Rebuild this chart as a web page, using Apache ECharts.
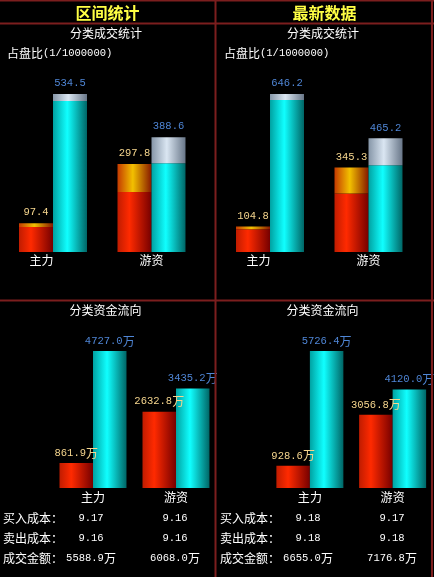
<!DOCTYPE html>
<html>
<head>
<meta charset="utf-8">
<script src="https://cdn.jsdelivr.net/npm/echarts@6/dist/echarts.min.js"></script>
<style>
html,body{margin:0;padding:0;background:#000;}
#c{width:434px;height:577px;}
</style>
</head>
<body>
<div id="c"></div>
<script>
// ---------- data ----------
const categories = ['主力', '游资'];
const panelTitles = ['区间统计', '最新数据'];

// 占盘比 (1/1000000): totals and the light cap segment on top of each bar
const rangeRatioRed = [97.4, 297.8];
const rangeRatioRedCap = [13, 95];
const rangeRatioCyan = [534.5, 388.6];
const rangeRatioCyanCap = [24, 88];

const latestRatioRed = [104.8, 345.3];
const latestRatioRedCap = [12, 106];
const latestRatioCyan = [646.2, 465.2];
const latestRatioCyanCap = [25, 110];

// 分类资金流向 (万)
const rangeFlowRed = [861.9, 2632.8];
const rangeFlowCyan = [4727.0, 3435.2];
const latestFlowRed = [928.6, 3056.8];
const latestFlowCyan = [5726.4, 4120.0];

// table
const rowLabels = ['买入成本：', '卖出成本：', '成交金额：'];
const rangeBuyCost = ['9.17', '9.16'];
const rangeSellCost = ['9.16', '9.16'];
const rangeTurnover = ['5588.9万', '6068.0万'];
const latestBuyCost = ['9.18', '9.17'];
const latestSellCost = ['9.18', '9.18'];
const latestTurnover = ['6655.0万', '7176.8万'];

// ---------- styles ----------
const MONO = 'Liberation Mono';
const MONO_SIZE = 10.5;
const CJK = 'Noto Sans CJK SC';
const grad = (stops) => ({type: 'linear', x: 0, y: 0, x2: 1, y2: 0,
  colorStops: stops.map(s => ({offset: s[0], color: s[1]}))});
const RED = grad([[0, '#c01c00'], [0.35, '#ff2a00'], [1, '#760000']]);
const ORANGE = grad([[0, '#c43a00'], [0.45, '#f2c000'], [1, '#861800']]);
const CYAN = grad([[0, '#00a2a2'], [0.42, '#10ffff'], [1, '#006666']]);
const SILVER = grad([[0, '#8696a8'], [0.45, '#dae6f2'], [1, '#687688']]);
const RED_LBL = '#f6d68e';
const BLUE_LBL = '#4f86d6';
const LINE = '#7c1e1e';

const PW = 217; // panel offset
const grids = [
  {left: 3.75, top: 94, width: 197, height: 158},
  {left: 3.75 + PW, top: 94, width: 197, height: 158},
  {left: 51.5, top: 351, width: 166, height: 137},
  {left: 51.5 + PW, top: 351, width: 166, height: 137}
];

function xAx(i, shiftFirst) {
  return {
    type: 'category', gridIndex: i, data: categories,
    axisLine: {show: false}, axisTick: {show: false}, splitLine: {show: false},
    axisLabel: {
      interval: 0, color: '#fff', fontSize: 12, fontFamily: CJK, margin: shiftFirst ? 2 : 3,
      formatter: (v, idx) => (shiftFirst && idx === 0) ? '{s|' + v + '}' : v,
      rich: {s: {padding: [0, 23, 0, 0], color: '#fff', fontSize: 12, fontFamily: CJK}}
    }
  };
}
function yAx(i, max) {
  return {type: 'value', gridIndex: i, min: 0, max: max, show: false, splitLine: {show: false}};
}

const numLabel = (color, vals, wan) => ({
  show: true, position: 'top', distance: wan ? 4 : 5,
  formatter: p => wan ? '{n|' + vals[p.dataIndex].toFixed(1) + '}{w|万}' : '{n|' + vals[p.dataIndex].toFixed(1) + '}',
  rich: {
    n: {color: color, fontSize: MONO_SIZE, fontFamily: MONO},
    w: {color: color, fontSize: 12, fontFamily: CJK}
  }
});

function ratioSeries(i, red, redCap, cyan, cyanCap) {
  return [
    {type: 'bar', xAxisIndex: i, yAxisIndex: i, stack: 'r' + i, barWidth: 34, barGap: '0%',
      data: red.map((v, k) => v - redCap[k]), itemStyle: {color: RED}, silent: true},
    {type: 'bar', xAxisIndex: i, yAxisIndex: i, stack: 'r' + i, barWidth: 34, barGap: '0%',
      data: redCap, itemStyle: {color: ORANGE}, label: numLabel(RED_LBL, red, false), silent: true},
    {type: 'bar', xAxisIndex: i, yAxisIndex: i, stack: 'c' + i, barWidth: 34, barGap: '0%',
      data: cyan.map((v, k) => v - cyanCap[k]), itemStyle: {color: CYAN}, silent: true},
    {type: 'bar', xAxisIndex: i, yAxisIndex: i, stack: 'c' + i, barWidth: 34, barGap: '0%',
      data: cyanCap, itemStyle: {color: SILVER}, label: numLabel(BLUE_LBL, cyan, false), silent: true}
  ];
}
function flowSeries(i, red, cyan) {
  return [
    {type: 'bar', xAxisIndex: i, yAxisIndex: i, barWidth: 33.5, barGap: '0%',
      data: red, itemStyle: {color: RED}, label: numLabel(RED_LBL, red, true), silent: true},
    {type: 'bar', xAxisIndex: i, yAxisIndex: i, barWidth: 33.5, barGap: '0%',
      data: cyan, itemStyle: {color: CYAN}, label: numLabel(BLUE_LBL, cyan, true), silent: true}
  ];
}

// ---------- graphic texts & borders ----------
const graphics = [];
function txt(text, x, y, opts) {
  opts = opts || {};
  const style = Object.assign({
    text: text, x: x, y: y, fill: '#fff',
    font: (opts.bold ? 'bold ' : '') + (opts.size || 12) + 'px "' + (opts.family || CJK) + '"',
    textAlign: opts.align || 'center', align: opts.align || 'center',
    textVerticalAlign: 'middle', verticalAlign: 'middle'
  }, opts.style || {});
  if (opts.fill) style.fill = opts.fill;
  graphics.push({type: 'text', silent: true, z: 100, style: style});
}
function valTxt(s, x, y) {
  const hasWan = s.endsWith('万');
  const num = hasWan ? s.slice(0, -1) : s;
  graphics.push({type: 'text', silent: true, z: 100, style: {
    text: '{n|' + num + '}' + (hasWan ? '{w|万}' : ''), x: x, y: y,
    textAlign: 'center', align: 'center', textVerticalAlign: 'middle', verticalAlign: 'middle',
    rich: {n: {fill: '#fff', fontSize: MONO_SIZE, fontFamily: MONO}, w: {fill: '#fff', fontSize: 12, fontFamily: CJK}}
  }});
}
function rect(x, y, w, h) {
  graphics.push({type: 'rect', silent: true, z: 90, shape: {x: x, y: y, width: w, height: h}, style: {fill: LINE}});
}
rect(0, 0, 434, 1.5);
rect(0, 22.5, 434, 2);
rect(0, 299.5, 434, 2);
rect(214.5, 0, 2, 577);
rect(431, 0, 2, 577);

const tables = [
  [rangeBuyCost, rangeSellCost, rangeTurnover],
  [latestBuyCost, latestSellCost, latestTurnover]
];
[0, 1].forEach(p => {
  const ox = p * PW;
  txt(panelTitles[p], 107.5 + ox, 12.5, {bold: true, size: 16, fill: '#ffff44'});
  txt('分类成交统计', 106 + ox, 33, {size: 12});
  graphics.push({type: 'text', silent: true, z: 100, style: {
    text: '{a|占盘比}{b|(1/1000000)}', x: 7 + ox, y: 53,
    textAlign: 'left', align: 'left', textVerticalAlign: 'middle', verticalAlign: 'middle',
    rich: {a: {fill: '#fff', fontSize: 12, fontFamily: CJK}, b: {fill: '#fff', fontSize: MONO_SIZE, fontFamily: MONO}}
  }});
  txt('分类资金流向', 105.5 + ox, 310, {size: 12});
  rowLabels.forEach((lab, r) => {
    const y = 518 + r * 20;
    txt(lab, 3 + ox, y, {size: 12, align: 'left'});
    tables[p][r].forEach((v, k) => valTxt(v, (k === 0 ? 91 : 175) + ox, y));
  });
});

const chart = echarts.init(document.getElementById('c'), null, {renderer: 'canvas'});
chart.setOption({
  backgroundColor: '#000',
  animation: false,
  grid: grids,
  xAxis: [xAx(0, true), xAx(1, true), xAx(2, false), xAx(3, false)],
  yAxis: [
    yAx(0, Math.max(...rangeRatioRed, ...rangeRatioCyan)),
    yAx(1, Math.max(...latestRatioRed, ...latestRatioCyan)),
    yAx(2, Math.max(...rangeFlowRed, ...rangeFlowCyan)),
    yAx(3, Math.max(...latestFlowRed, ...latestFlowCyan))
  ],
  series: [
    ...ratioSeries(0, rangeRatioRed, rangeRatioRedCap, rangeRatioCyan, rangeRatioCyanCap),
    ...ratioSeries(1, latestRatioRed, latestRatioRedCap, latestRatioCyan, latestRatioCyanCap),
    ...flowSeries(2, rangeFlowRed, rangeFlowCyan),
    ...flowSeries(3, latestFlowRed, latestFlowCyan)
  ],
  graphic: graphics
});
</script>
</body>
</html>
